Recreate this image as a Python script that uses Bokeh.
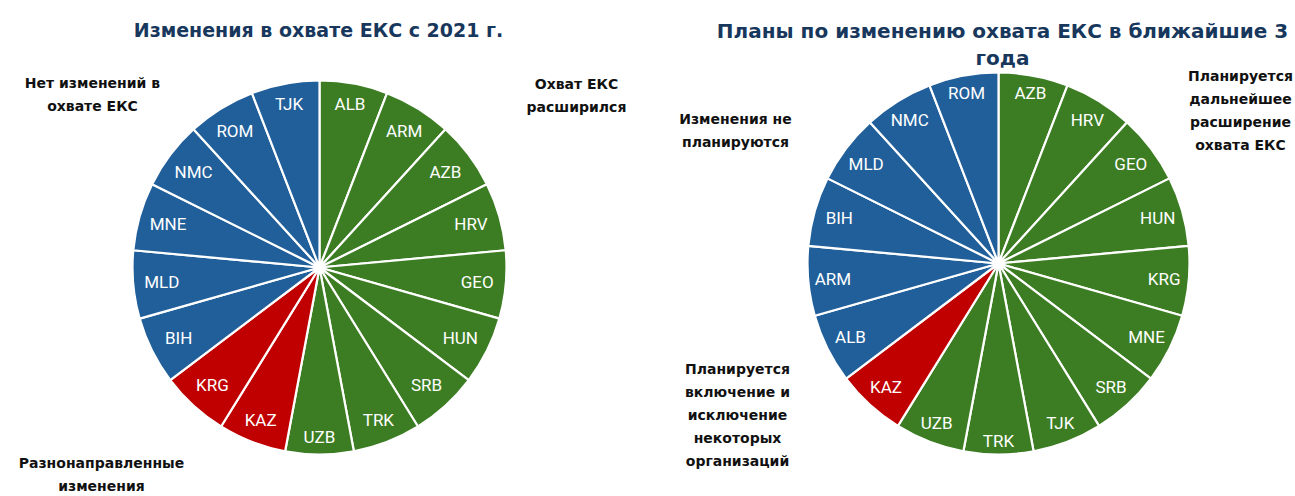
import numpy as np
from bokeh.plotting import figure
from bokeh.models import ColumnDataSource, Range1d
from bokeh.core.properties import value
from bokeh.embed import file_html
from bokeh.resources import INLINE

# ---------------- data ----------------
left_title = "Изменения в охвате ЕКС с 2021 г."
left_countries = ["ALB", "ARM", "AZB", "HRV", "GEO", "HUN", "SRB", "TRK", "UZB",
                  "KAZ", "KRG",
                  "BIH", "MLD", "MNE", "NMC", "ROM", "TJK"]
left_groups = ["exp"] * 9 + ["mix"] * 2 + ["none"] * 6
left_values = [1, 1, 1, 1, 1, 1, 1, 1, 1, 1, 1, 1, 1, 1, 1, 1, 1]

right_title = "Планы по изменению охвата ЕКС в ближайшие 3\nгода"
right_countries = ["AZB", "HRV", "GEO", "HUN", "KRG", "MNE", "SRB", "TJK", "TRK", "UZB",
                   "KAZ",
                   "ALB", "ARM", "BIH", "MLD", "NMC", "ROM"]
right_groups = ["exp"] * 10 + ["mix"] * 1 + ["none"] * 6
right_values = [1, 1, 1, 1, 1, 1, 1, 1, 1, 1, 1, 1, 1, 1, 1, 1, 1]

left_group_names = {
    "exp": "Охват ЕКС\nрасширился",
    "mix": "Разнонаправленные\nизменения",
    "none": "Нет изменений в\nохвате ЕКС",
}
right_group_names = {
    "exp": "Планируется\nдальнейшее\nрасширение\nохвата ЕКС",
    "mix": "Планируется\nвключение и\nисключение\nнекоторых\nорганизаций",
    "none": "Изменения не\nпланируются",
}

COLORS = {"exp": "#3C7D23", "mix": "#C00000", "none": "#215F9A"}
TITLE_COLOR = "#18375C"

# ---------------- layout ----------------
W, H = 1295, 496
def fx(px):
    return px
def fy(py):
    return H - py

p = figure(width=W, height=H, x_range=Range1d(0, W), y_range=Range1d(0, H),
           output_backend="svg", toolbar_location=None, min_border=0)
p.axis.visible = False
p.grid.visible = False
p.outline_line_color = None
p.background_fill_color = "white"
p.border_fill_color = "white"


def draw_pie(cx, cy, R, countries, groups, values, pad):
    vals = np.array(values, dtype=float)
    tot = vals.sum()
    cum = np.concatenate([[0], np.cumsum(vals)])
    start = np.pi / 2 - cum[1:] / tot * 2 * np.pi
    end = np.pi / 2 - cum[:-1] / tot * 2 * np.pi
    mid = (start + end) / 2
    rl = R - pad - (np.abs(np.cos(mid)) * 18 + np.abs(np.sin(mid)) * 8)
    src = ColumnDataSource(dict(
        start=start, end=end,
        color=[COLORS[g] for g in groups],
        lx=cx + rl * np.cos(mid), ly=cy + rl * np.sin(mid),
        label=countries,
    ))
    p.wedge(x=cx, y=cy, radius=R, start_angle="start", end_angle="end",
            fill_color="color", line_color="white", line_width=2.2, source=src)
    p.text(x="lx", y="ly", text="label", source=src, text_color="white",
           text_font=value("Roboto"), text_font_size="17px",
           text_align="center", text_baseline="middle")


draw_pie(fx(319), fy(267), 187, left_countries, left_groups, left_values, 10)
draw_pie(fx(998), fy(263), 191, right_countries, right_groups, right_values, 6)

# titles
p.text(x=[fx(318)], y=[fy(29)], text=[left_title], text_color=TITLE_COLOR,
       text_font=value("DejaVu Sans"), text_font_style="bold", text_font_size="19px",
       text_align="center", text_baseline="middle")
p.text(x=[fx(1002)], y=[fy(30)], text=[right_title], text_color=TITLE_COLOR,
       text_font=value("DejaVu Sans"), text_font_style="bold", text_font_size="20px",
       text_align="center", text_baseline="top", text_line_height=1.15, y_offset=-12)

# group labels
cat_x = [fx(576), fx(101), fx(92), fx(1240), fx(737), fx(735)]
cat_y = [fy(84), fy(463), fy(83), fy(76), fy(369), fy(119)]
cat_t = [left_group_names["exp"], left_group_names["mix"], left_group_names["none"],
         right_group_names["exp"], right_group_names["mix"], right_group_names["none"]]
p.text(x=cat_x, y=cat_y, text=cat_t, text_color="#111111",
       text_font=value("DejaVu Sans"), text_font_style="bold", text_font_size="14px",
       text_align="center", text_baseline="top", text_line_height=1.45, y_offset=-9)

open("out.html", "w").write(file_html(p, INLINE))
